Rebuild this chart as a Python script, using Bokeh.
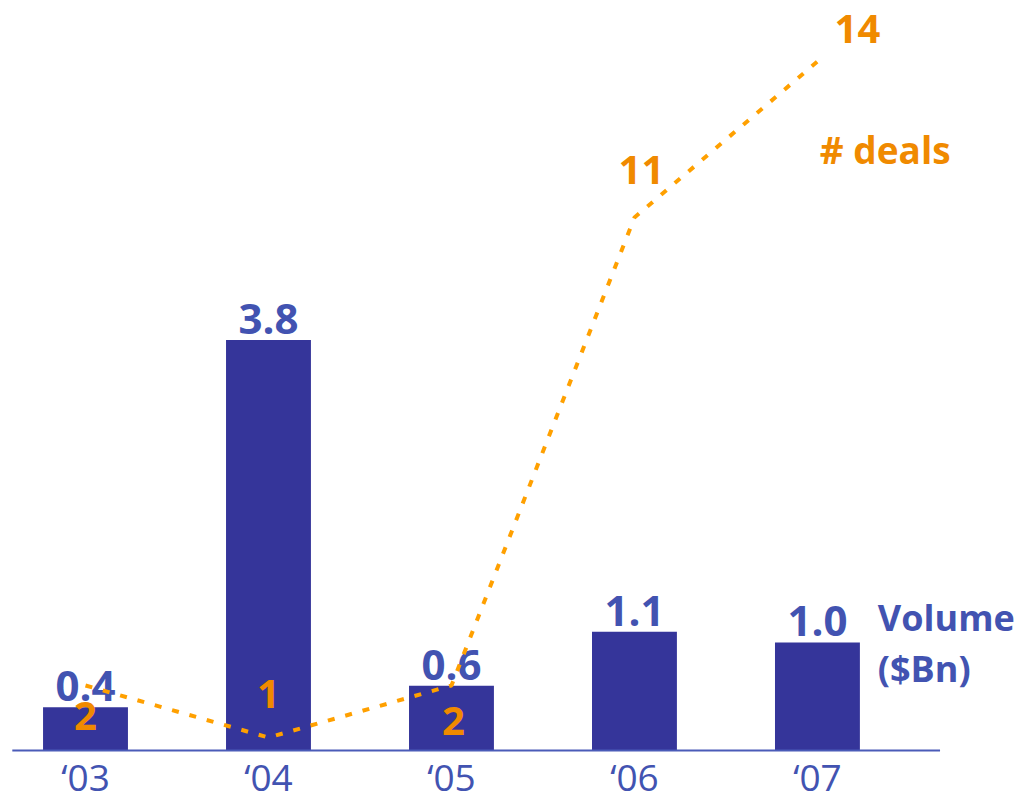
from bokeh.plotting import figure
from bokeh.models import Range1d, ColumnDataSource
from bokeh.core.properties import value
from bokeh.embed import file_html
from bokeh.resources import INLINE

years = ["\u201803", "\u201804", "\u201805", "\u201806", "\u201807"]
volume = [0.4, 3.8, 0.6, 1.1, 1.0]
deals = [2, 1, 2, 11, 14]

# label styling offsets (screen pixels, + is down / right) for the deal counts
deal_dx = [0, 0, 2, 7, 40]
deal_dy = [30, -44, 35, -48, -32]

FONT = "Open Sans"
BLUE_BAR = "#35359a"
BLUE_TXT = "#4253b1"
ORANGE_TXT = "#f08a00"
ORANGE_LINE = "#ffa000"

xs = list(range(len(years)))

p = figure(width=1025, height=803, output_backend="svg", toolbar_location=None,
           x_range=Range1d(-0.4645, 5.137), y_range=Range1d(-0.491, 6.944),
           min_border=0, outline_line_color=None)
p.axis.visible = False
p.grid.visible = False
p.extra_y_ranges = {"deals": Range1d(-0.269, 15.173)}

src = ColumnDataSource(dict(x=xs, vol=volume, deals=deals, year=years,
                            vlab=[f"{v:.1f}" for v in volume],
                            dlab=[str(d) for d in deals],
                            dx=deal_dx, dy=deal_dy))

# bars
p.vbar(x="x", top="vol", bottom=0, width=0.464, source=src,
       fill_color=BLUE_BAR, line_color=None)
# baseline
p.segment(x0=[-0.4], y0=[0], x1=[4.67], y1=[0], line_color="#4a5bb8", line_width=2)

# bar value labels
p.text(x="x", y="vol", text="vlab", source=src, text_align="center",
       text_baseline="bottom", y_offset=-6, text_font=value(FONT),
       text_font_size="42px", text_font_style="bold", text_color=BLUE_TXT)

# year labels
p.text(x="x", y=0, text="year", source=src, text_align="center",
       text_baseline="middle", y_offset=26, text_font=value(FONT),
       text_font_size="37px", text_color=BLUE_TXT)

# deals line
p.line(x="x", y="deals", source=src, y_range_name="deals",
       line_color=ORANGE_LINE, line_width=4, line_dash="7 11")

p.text(x="x", y="deals", text="dlab", source=src, y_range_name="deals",
       x_offset="dx", y_offset="dy", text_align="center", text_baseline="middle",
       text_font=value(FONT), text_font_size="40px", text_font_style="bold",
       text_color=ORANGE_TXT)

# series annotations
p.text(x=[4.37], y=[12.3], text=["# deals"], y_range_name="deals",
       text_align="center", text_baseline="middle", text_font=value(FONT),
       text_font_size="37px", text_font_style="bold", text_color=ORANGE_TXT)
p.text(x=[4.33, 4.33], y=[1.23, 0.76], text=["Volume", "($Bn)"],
       text_align="left", text_baseline="middle", text_font=value(FONT),
       text_font_size="36px", text_font_style="bold", text_color=BLUE_TXT)

open("out.html", "w").write(file_html(p, INLINE))
